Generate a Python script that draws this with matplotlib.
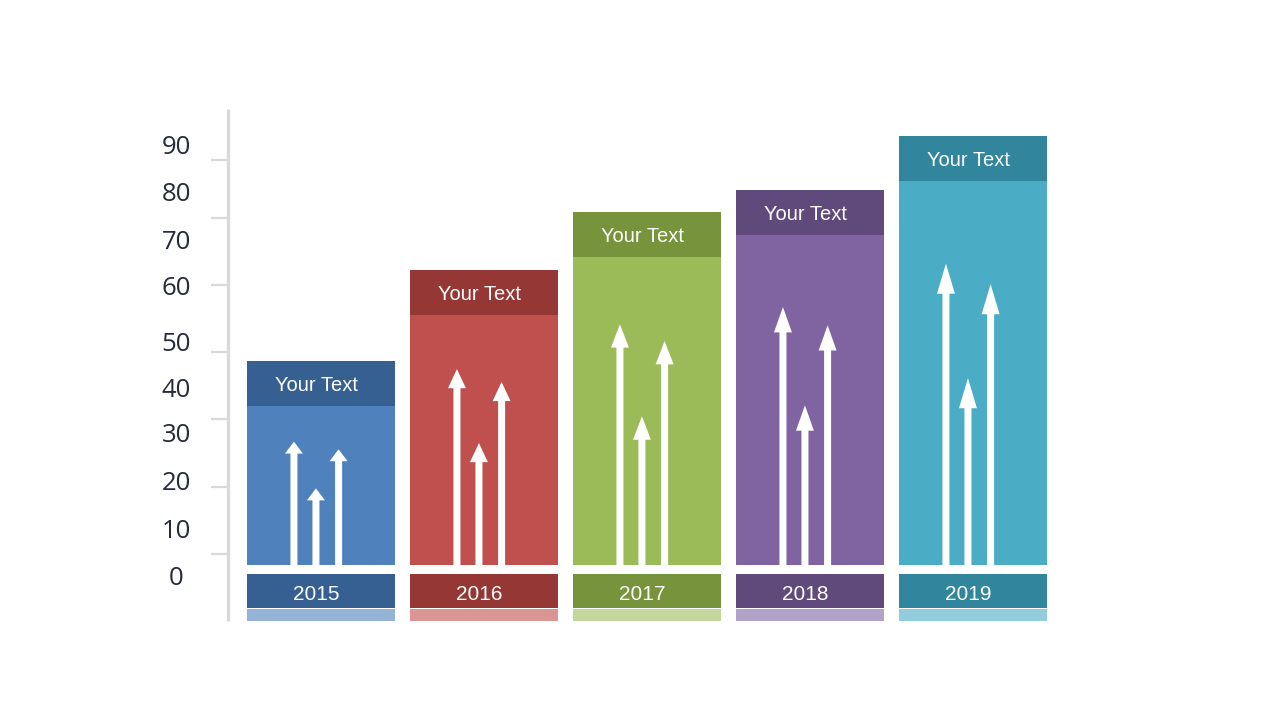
import matplotlib
matplotlib.use("Agg")
import matplotlib.pyplot as plt

# data (value units, bar base = 0)
years = ["2015", "2016", "2017", "2018", "2019"]
bar_values = [42.8, 61.8, 74.0, 78.6, 89.9]
header_text = ["Your Text"] * 5
# three arrows per bar: left, middle, right tip heights
arrow_left = [25.9, 41.1, 50.5, 54.1, 63.2]
arrow_mid = [16.1, 25.6, 31.2, 33.5, 39.2]
arrow_right = [24.3, 38.4, 47.0, 50.3, 58.9]
axis_labels = ["0", "10", "20", "30", "40", "50", "60", "70", "80", "90"]
axis_label_pos = [-2.3, 7.5, 17.6, 27.7, 37.1, 46.8, 58.5, 68.1, 78.2, 88.1]
axis_ticks = [2.3, 16.4, 30.6, 44.7, 58.7, 72.7, 84.9]

# styles
body_colors = ["#4F81BD", "#C0504D", "#9BBB59", "#8064A2", "#4BACC6"]
dark_colors = ["#376092", "#953735", "#77933C", "#604A7B", "#31859C"]
light_colors = ["#95B3D7", "#D99694", "#C3D69B", "#B3A2C7", "#93CDDD"]
head_len = [2.5, 4.0, 4.9, 5.3, 6.3]
arrow_dx = [-0.166, -0.031, 0.108]
BAR_W = 0.91
HEADER_H = 9.4
GREY = "#D9D9D9"

fig = plt.figure(figsize=(12.8, 7.2), dpi=100)
ax = fig.add_axes([0, 0, 1, 1])
ax.set_xlim(-1.9693, 5.8834)
ax.set_ylim(-32.43, 118.45)
ax.axis("off")

xs = list(range(len(years)))

# main bars and darker header band
ax.bar(xs, bar_values, width=BAR_W, color=body_colors, linewidth=0)
ax.bar(xs, [HEADER_H] * 5, bottom=[v - HEADER_H for v in bar_values],
       width=BAR_W, color=dark_colors, linewidth=0)

# year boxes and light strip below
ax.bar(xs, [-7.1] * 5, bottom=-1.9, width=BAR_W, color=dark_colors, linewidth=0)
ax.bar(xs, [-2.5] * 5, bottom=-9.25, width=BAR_W, color=light_colors, linewidth=0)

for i, x in enumerate(xs):
    tips = [arrow_left[i], arrow_mid[i], arrow_right[i]]
    for dx, tip in zip(arrow_dx, tips):
        ax.arrow(x + dx, 0, 0, tip, width=0.043, head_width=0.11,
                 head_length=head_len[i], length_includes_head=True,
                 fc="white", ec="none", lw=0, zorder=3)
    ax.text(x - 0.028, bar_values[i] - HEADER_H / 2 - 0.45, header_text[i],
            ha="center", va="center", color="white", fontsize=14.5,
            family="Liberation Sans")
    ax.text(x - 0.03, -6.2, years[i], ha="center", va="center",
            color="white", fontsize=15, family="Liberation Sans")

# y axis line, ticks and labels
ax.plot([-0.5706, -0.5706], [-11.6, 95.6], color=GREY, lw=2.4,
        solid_capstyle="butt")
for t in axis_ticks:
    ax.plot([-0.675, -0.5706], [t, t], color=GREY, lw=1.6,
            solid_capstyle="butt")
for lab, pos in zip(axis_labels, axis_label_pos):
    ax.text(-0.887, pos - 0.5, lab, ha="center", va="center", color="#262B3B",
            fontsize=18.5, family="Open Sans")

fig.savefig("out.png", dpi=100)
